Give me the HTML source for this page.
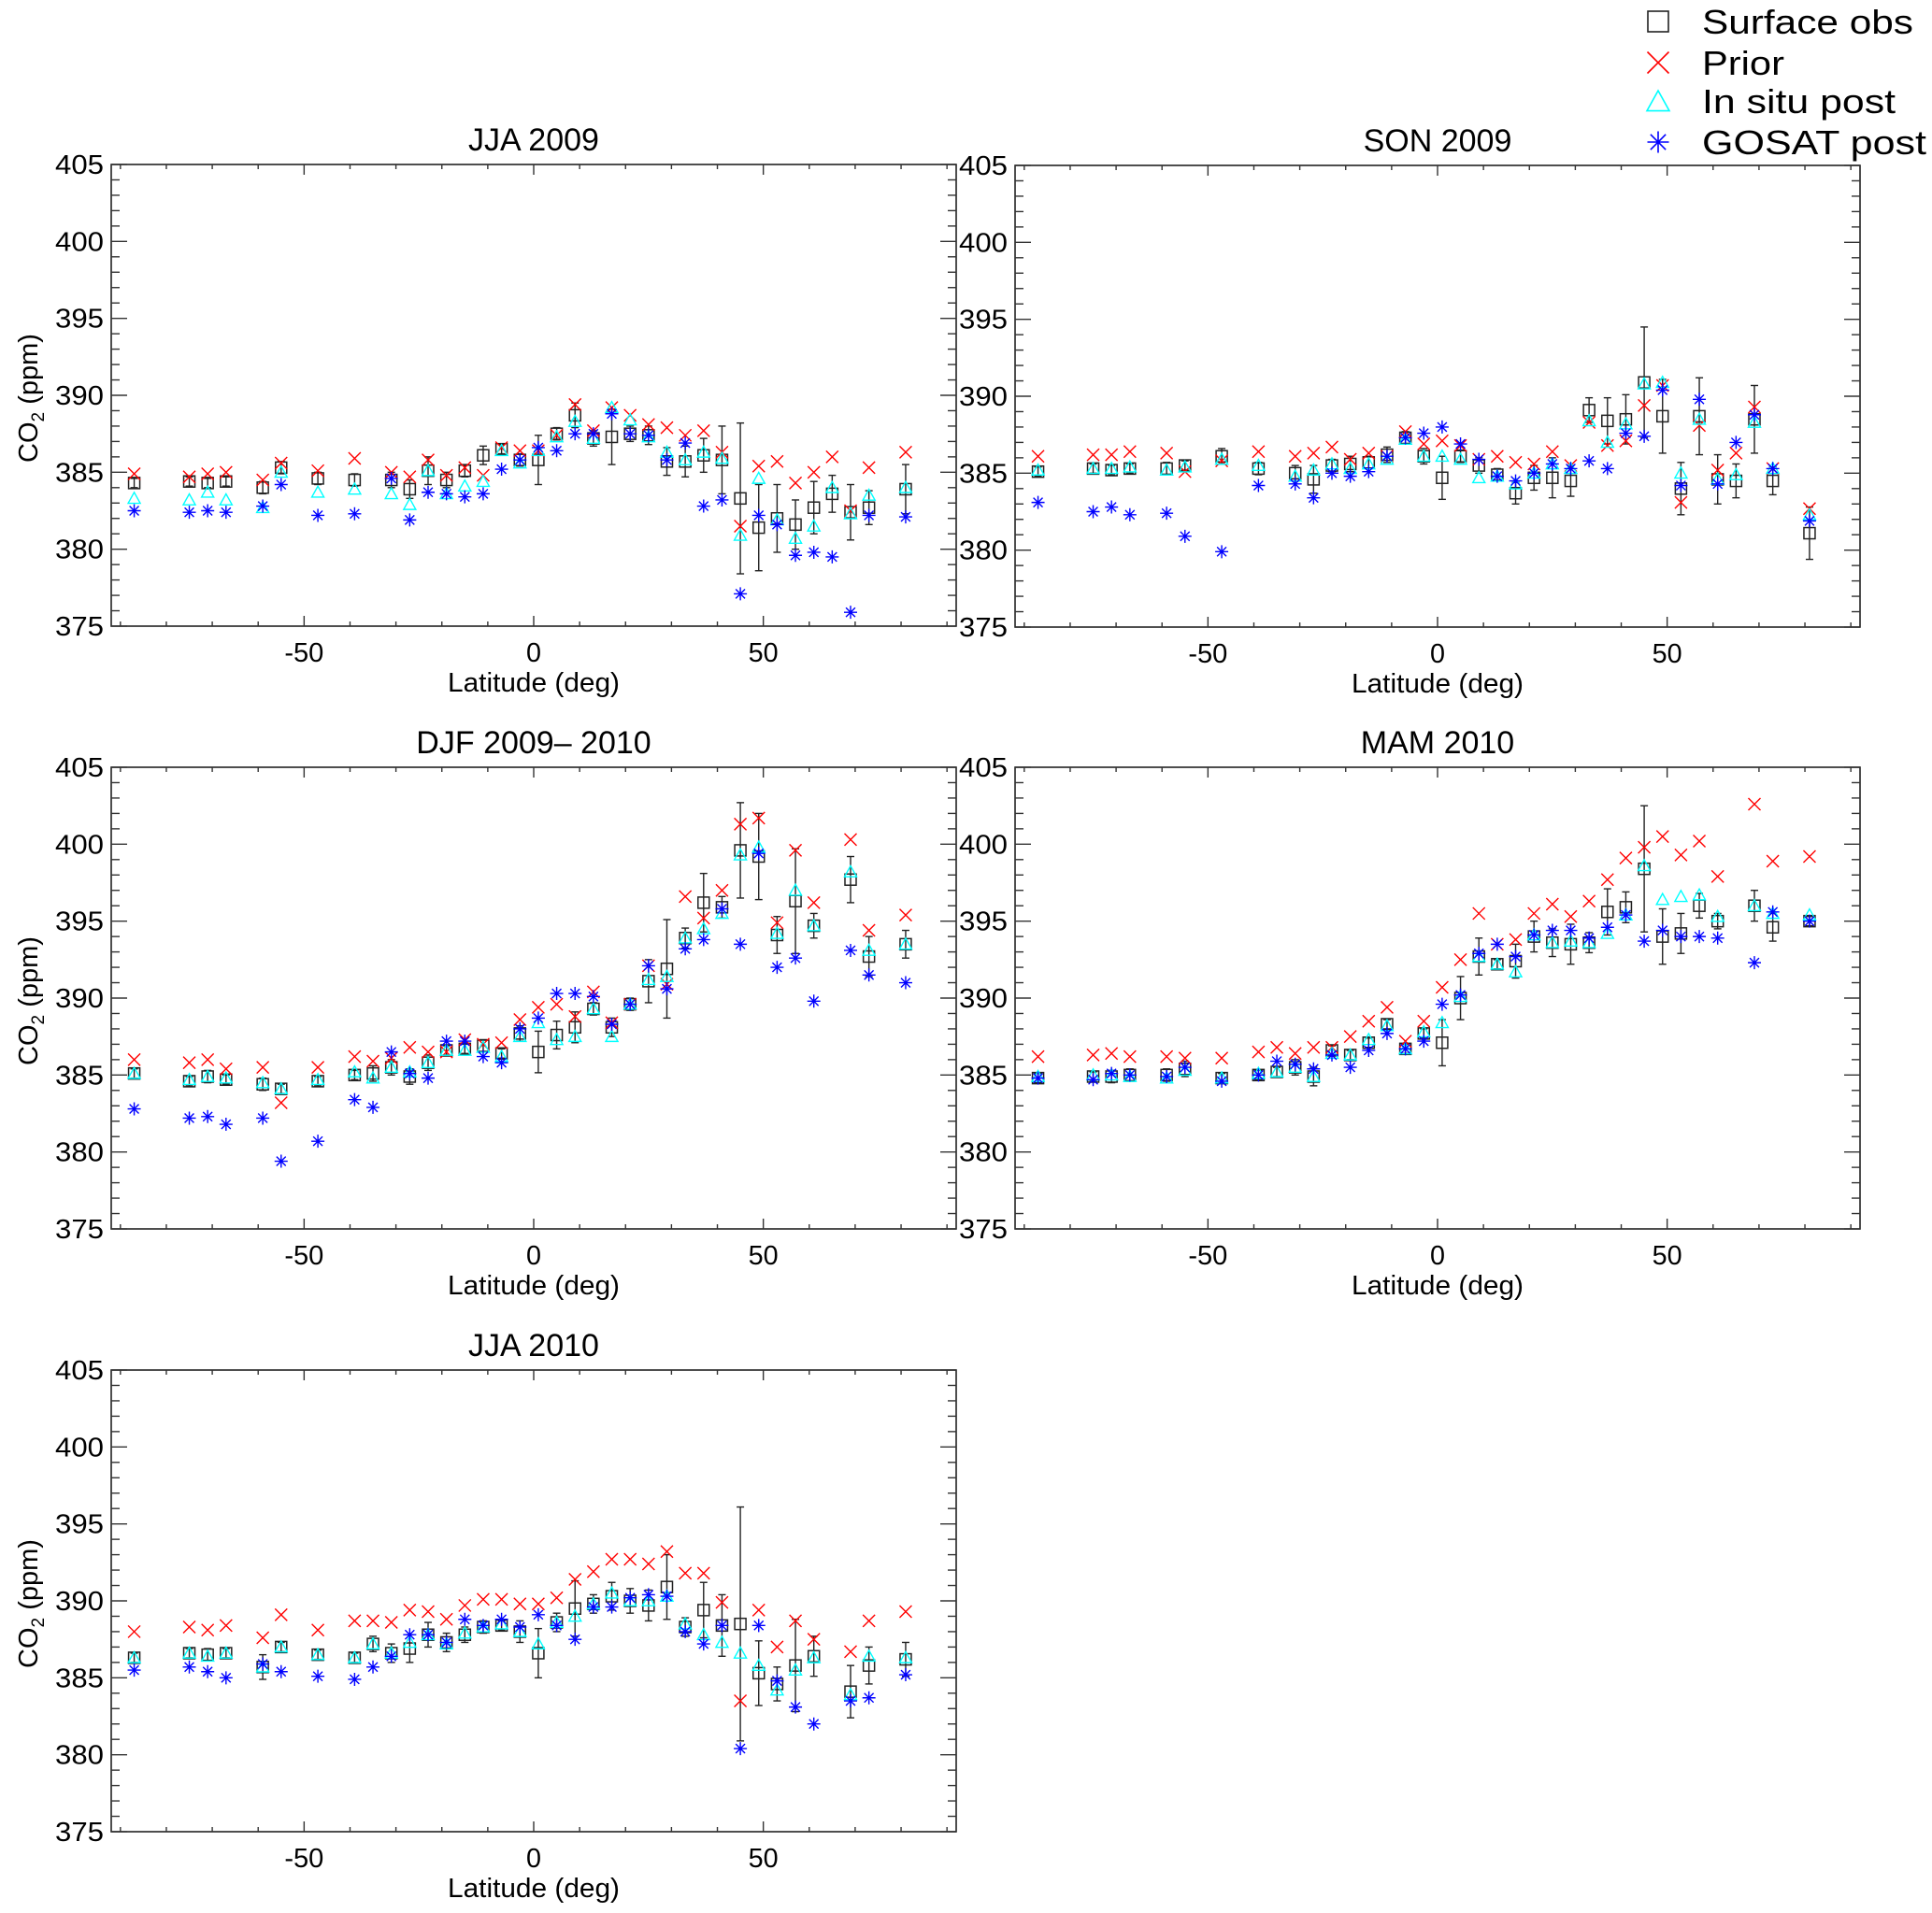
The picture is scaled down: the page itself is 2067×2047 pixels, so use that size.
<!DOCTYPE html>
<html><head><meta charset="utf-8"><style>
html,body{margin:0;padding:0;background:#fff;}
svg{display:block;font-family:"Liberation Sans",Arial,sans-serif;}
</style></head><body>
<svg id="chart" width="2067" height="2047" viewBox="0 0 2067 2047" xmlns="http://www.w3.org/2000/svg">
<rect x="0" y="0" width="2067" height="2047" fill="#fff"/>
<g id="legend"></g>
</svg>
<script>
// ---------- data ----------
const latA = [-87,-75,-71,-67,-59,-55,-47,-39,-31,-27,-23,-19,-15,-11,-7,-3,1,5,9,13,17,21,25,29,33,37,41,45,49,53,57,61,65,69,73,81];
const latB = [-87,-75,-71,-67,-59,-55,-47,-39,-35,-31,-27,-23,-19,-15,-11,-7,-3,1,5,9,13,17,21,25,29,33,37,41,45,49,53,57,61,69,73,81];
const panelTitles = ["JJA 2009","SON 2009","DJF 2009\u2013 2010","MAM 2010","JJA 2010"];
const yTicks = [375,380,385,390,395,400,405];
const xTicks = [-50,0,50];

const surf1 = [384.3,384.4,384.3,384.4,384.0,385.3,384.6,384.5,384.5,383.9,385.1,384.5,385.1,386.1,386.5,385.8,385.8,387.5,388.7,387.2,387.3,387.5,387.4,385.7,385.7,386.1,385.8,383.3,381.4,382.0,381.6,382.7,383.6,382.4,382.7,383.9];
const err1 = [0.3,0.3,0.3,0.3,0.4,0.4,0.4,0.4,0.5,0.6,0.9,0.5,0.4,0.6,0.3,0.4,1.6,0.4,0.8,0.5,1.8,0.5,0.6,0.9,1.0,1.1,2.2,4.9,2.8,2.2,1.6,1.7,1.2,1.8,1.1,1.6];
const prior1 = [384.9,384.7,384.9,385.0,384.5,385.6,385.1,385.9,385.0,384.7,385.8,384.8,385.3,384.8,386.6,386.4,386.4,387.4,389.4,387.7,389.2,388.7,388.1,387.9,387.4,387.7,386.3,381.5,385.4,385.7,384.3,385.0,386.0,382.5,385.3,386.3];
const insitu1 = [383.3,383.2,383.7,383.2,382.7,385.0,383.7,383.9,383.6,382.9,385.1,383.6,384.1,384.4,386.4,385.6,386.4,387.3,388.3,387.2,389.2,388.4,387.3,386.3,385.8,386.3,385.9,380.9,384.6,381.9,380.7,381.5,384.0,382.3,383.5,384.0];
const gosat1 = [382.5,382.4,382.5,382.4,382.8,384.2,382.2,382.3,384.6,381.9,383.7,383.6,383.4,383.6,385.2,385.8,386.6,386.4,387.5,387.5,388.8,387.5,387.4,385.8,386.9,382.8,383.2,377.1,382.2,381.6,379.6,379.8,379.5,375.9,382.2,382.1];

const surf2 = [385.1,385.3,385.2,385.3,385.3,385.5,386.1,385.3,385.0,384.6,385.5,385.6,385.7,386.2,387.3,386.1,384.7,386.1,385.5,384.9,383.7,384.7,384.7,384.5,389.1,388.4,388.5,390.9,388.7,384.0,388.7,384.6,384.5,388.5,384.5,381.1];
const err2 = [0.3,0.3,0.3,0.3,0.4,0.3,0.5,0.4,0.5,0.9,0.4,0.5,0.4,0.5,0.4,0.5,1.4,0.4,0.5,0.4,0.7,0.8,1.3,1.0,0.8,1.5,1.6,3.6,2.4,1.7,2.5,1.6,1.1,2.2,0.9,1.7];
const prior2 = [386.1,386.2,386.2,386.4,386.3,385.1,385.8,386.4,386.1,386.3,386.7,385.9,386.3,386.1,387.7,386.9,387.1,386.8,385.9,386.1,385.7,385.6,386.4,385.5,388.3,386.8,387.1,389.4,390.7,383.1,388.1,385.2,386.3,389.3,385.3,382.7];
const insitu2 = [385.2,385.3,385.3,385.4,385.2,385.4,385.9,385.5,384.8,385.2,385.6,385.3,385.6,385.9,387.2,386.1,386.1,385.9,384.7,384.8,384.3,385.0,385.6,385.3,388.4,387.0,388.2,390.8,390.9,385.0,388.5,384.6,384.9,388.3,385.3,382.3];
const gosat2 = [383.1,382.5,382.8,382.3,382.4,380.9,379.9,384.2,384.3,383.4,385.0,384.8,385.1,386.1,387.3,387.6,388.0,386.9,385.9,384.8,384.5,385.0,385.6,385.3,385.8,385.3,387.6,387.4,390.4,384.2,389.8,384.3,387.0,388.8,385.3,381.9];

const surf3 = [385.1,384.6,384.9,384.7,384.4,384.1,384.6,385.0,385.1,385.5,384.9,385.8,386.6,386.7,386.9,386.4,387.7,386.5,387.6,388.1,389.3,388.1,389.6,391.1,391.9,393.9,396.2,395.9,399.6,399.2,394.1,396.3,394.7,397.7,392.7,393.5];
const err3 = [0.3,0.3,0.4,0.3,0.4,0.3,0.3,0.3,0.5,0.5,0.5,0.5,0.3,0.3,0.4,0.3,0.5,1.35,0.9,1.0,0.4,0.6,0.4,1.4,3.2,0.65,1.9,0.7,3.1,2.8,1.2,3.4,0.8,1.5,1.3,0.9];
const prior3 = [386.0,385.8,386.0,385.4,385.5,383.2,385.5,386.2,385.9,386.1,386.8,386.5,386.5,387.3,387.0,387.1,388.6,389.4,389.6,388.8,390.4,388.4,389.6,392.1,390.9,396.6,395.2,397.0,401.3,401.7,394.9,399.6,396.2,400.3,394.4,395.4];
const insitu3 = [385.1,384.7,384.9,384.8,384.5,384.1,384.7,385.2,384.8,385.5,385.2,385.8,386.6,386.6,386.8,386.2,387.5,388.4,387.3,387.5,389.3,387.5,389.6,391.2,391.4,393.9,394.5,395.5,399.3,399.8,394.2,397.0,394.7,398.2,393.1,393.5];
const gosat3 = [382.8,382.2,382.3,381.8,382.2,379.4,380.7,383.4,382.9,386.5,385.1,384.8,387.2,387.2,386.2,385.8,388.0,388.7,390.3,390.3,390.1,388.3,389.6,392.1,390.6,393.2,393.8,395.8,393.5,399.4,392.0,392.6,389.8,393.1,391.5,391.0];

const surf4 = [384.8,384.9,384.9,385.0,385.0,385.4,384.8,385.0,385.2,385.5,384.9,386.6,386.3,387.1,388.3,386.7,387.7,387.1,390.0,392.7,392.2,392.4,394.0,393.6,393.5,393.6,395.6,395.9,398.4,394.0,394.2,396.0,395.0,396.0,394.6,395.0];
const err4 = [0.3,0.3,0.4,0.4,0.4,0.5,0.3,0.3,0.3,0.5,0.6,0.3,0.3,0.3,0.3,0.3,0.3,1.5,1.4,1.2,0.3,1.1,1.0,0.9,1.3,0.65,1.5,1.0,4.1,1.8,1.3,0.8,0.5,1.0,0.9,0.3];
const prior4 = [386.2,386.3,386.4,386.2,386.2,386.1,386.1,386.5,386.8,386.4,386.8,386.8,387.5,388.5,389.4,387.2,388.5,390.7,392.5,395.5,393.5,393.8,395.5,396.1,395.3,396.3,397.7,399.1,399.8,400.5,399.3,400.2,397.9,402.6,398.9,399.2];
const insitu4 = [384.9,385.0,385.0,384.9,384.8,385.3,384.8,385.1,385.2,385.5,384.9,386.4,386.3,387.3,388.2,386.7,387.8,388.4,390.1,392.7,392.2,391.7,394.1,393.6,393.7,393.6,394.2,395.4,398.6,396.4,396.6,396.7,395.3,396.0,395.5,395.4];
const gosat4 = [384.8,384.7,385.1,385.0,384.9,385.5,384.6,385.0,385.9,385.7,385.4,386.3,385.5,386.6,387.7,386.7,387.2,389.6,390.2,392.9,393.5,392.7,394.1,394.4,394.4,393.9,394.6,395.4,393.7,394.4,394.0,394.0,393.9,392.3,395.6,395.0];

const surf5 = [386.3,386.6,386.5,386.6,385.7,387.0,386.5,386.3,387.2,386.6,386.9,387.8,387.3,387.8,388.3,388.4,388.0,386.6,388.6,389.5,389.8,390.3,390.0,389.7,390.9,388.3,389.4,388.4,388.5,385.3,384.6,385.8,386.4,384.1,385.8,386.2];
const err5 = [0.3,0.3,0.4,0.3,0.8,0.3,0.3,0.3,0.5,0.6,0.9,0.8,0.6,0.5,0.4,0.3,0.7,1.6,0.6,1.8,0.6,0.9,0.8,1.0,2.1,0.6,1.8,2.0,7.6,2.1,1.1,3.0,1.3,1.7,1.2,1.1];
const prior5 = [388.0,388.3,388.1,388.4,387.6,389.1,388.1,388.7,388.7,388.6,389.4,389.3,388.8,389.7,390.1,390.1,389.8,389.8,390.2,391.4,391.9,392.7,392.7,392.4,393.2,391.8,391.8,389.9,383.5,389.4,387.0,388.7,387.5,386.7,388.7,389.3];
const insitu5 = [386.3,386.6,386.4,386.6,385.7,387.0,386.5,386.3,387.2,386.6,387.3,387.8,387.2,387.9,388.3,388.5,388.0,387.2,388.6,389.0,389.8,390.5,390.0,390.0,390.3,388.5,387.8,387.3,386.6,385.8,384.2,385.5,386.3,383.9,386.4,386.3];
const gosat5 = [385.5,385.7,385.4,385.0,385.9,385.4,385.1,384.9,385.7,386.4,387.8,387.8,387.3,388.8,388.4,388.8,388.3,389.1,388.4,387.5,389.6,389.6,390.2,390.4,390.3,388.0,387.2,388.4,380.4,388.4,384.8,383.1,382.0,383.5,383.7,385.2];

// ---------- layout ----------
const NS = "http://www.w3.org/2000/svg";
const svg = document.getElementById("chart");
const W = 904, H = 494, XMIN = -92, XMAX = 92, YMIN = 375, YMAX = 405;
const panels = [
  {x:119, y:176, lat:latA, s:surf1, e:err1, p:prior1, i:insitu1, g:gosat1},
  {x:1086, y:177, lat:latA, s:surf2, e:err2, p:prior2, i:insitu2, g:gosat2},
  {x:119, y:821, lat:latB, s:surf3, e:err3, p:prior3, i:insitu3, g:gosat3},
  {x:1086, y:821, lat:latB, s:surf4, e:err4, p:prior4, i:insitu4, g:gosat4},
  {x:119, y:1466, lat:latB, s:surf5, e:err5, p:prior5, i:insitu5, g:gosat5}
];
function mk(tag, attrs, parent){
  const el = document.createElementNS(NS, tag);
  for (const k in attrs) el.setAttribute(k, attrs[k]);
  (parent||svg).appendChild(el);
  return el;
}
function line(g,x1,y1,x2,y2,col,w){ return mk("line",{x1:x1,y1:y1,x2:x2,y2:y2,stroke:col,"stroke-width":w},g); }
function symSquare(g,cx,cy,r,w){ return mk("rect",{x:cx-r,y:cy-r,width:2*r,height:2*r,fill:"none",stroke:"#222","stroke-width":w},g); }
function symX(g,cx,cy,r,w){ return mk("path",{d:`M${cx-r},${cy-r}L${cx+r},${cy+r}M${cx-r},${cy+r}L${cx+r},${cy-r}`,stroke:"#ff0000","stroke-width":w,fill:"none"},g); }
function symTri(g,cx,cy,r,w){ return mk("path",{d:`M${cx},${cy-r}L${cx+r},${cy+r*0.8}L${cx-r},${cy+r*0.8}Z`,stroke:"#00ffff","stroke-width":w,fill:"none"},g); }
function symAst(g,cx,cy,r,w){ const d=r*0.707; return mk("path",{d:`M${cx},${cy-r}L${cx},${cy+r}M${cx-r},${cy}L${cx+r},${cy}M${cx-d},${cy-d}L${cx+d},${cy+d}M${cx-d},${cy+d}L${cx+d},${cy-d}`,stroke:"#0000ff","stroke-width":w,fill:"none"},g); }

panels.forEach((P, pi) => {
  const g = mk("g", {});
  
  
  const sx = v => P.x + (v - XMIN) / (XMAX - XMIN) * W;
  const sy = v => P.y + H - (v - YMIN) / (YMAX - YMIN) * H;
  const fr = mk("rect",{x:P.x,y:P.y,width:W,height:H,fill:"none",stroke:"#222","stroke-width":1.6},g);
  
  
  for (let v = YMIN; v <= YMAX; v++) {
    const maj = v % 5 === 0; const L = maj ? 17 : 9; const y = sy(v);
    line(g, P.x, y, P.x + L, y, "#333", 1.4);
    line(g, P.x + W, y, P.x + W - L, y, "#333", 1.4);
  }
  for (let v = -90; v <= 90; v += 10) {
    const maj = v % 50 === 0; const L = maj ? 11 : 5; const x = sx(v);
    line(g, x, P.y + H, x, P.y + H - L, "#333", 1.4);
    line(g, x, P.y, x, P.y + L, "#333", 1.4);
  }
  yTicks.forEach(v => {
    const t = mk("text",{x:P.x - 8, y:sy(v) + 10, "text-anchor":"end","font-size":29,fill:"#000",textLength:52,lengthAdjust:"spacingAndGlyphs"},g);
    t.textContent = v;
    
    
  });
  xTicks.forEach(v => {
    const s = String(v);
    const wdt = s.length === 3 ? 42 : (s.length === 2 ? 32 : 16);
    const t = mk("text",{x:sx(v), y:P.y + H + 38, "text-anchor":"middle","font-size":29,fill:"#000",textLength:wdt,lengthAdjust:"spacingAndGlyphs"},g);
    t.textContent = s;
    
    
  });
  const xt = mk("text",{x:P.x + W/2, y:P.y + H + 70, "text-anchor":"middle","font-size":29,fill:"#000",textLength:184,lengthAdjust:"spacingAndGlyphs"},g);
  xt.textContent = "Latitude (deg)";
  
  
  const tt = mk("text",{x:P.x + W/2, y:P.y - 15, "text-anchor":"middle","font-size":34,fill:"#000"},g);
  tt.textContent = panelTitles[pi];
  
  
  if (P.x < 500) {
    const cy = P.y + H/2 + 3;
    const yt = mk("text",{x:0,y:0,transform:`translate(40,${cy}) rotate(-90)`,"text-anchor":"middle","font-size":29,fill:"#000"},g);
    yt.innerHTML = 'CO<tspan font-size="19" dy="7">2</tspan><tspan dy="-7"> (ppm)</tspan>';
    
    
  }
  P.lat.forEach((la, k) => {
    const x = sx(la);
    const eg = mk("g", {}, g);
    
    
    const y1 = sy(P.s[k] + P.e[k]), y2 = sy(P.s[k] - P.e[k]);
    line(eg, x, y1, x, y2, "#222", 1.4);
    line(eg, x - 4, y1, x + 4, y1, "#222", 1.4);
    line(eg, x - 4, y2, x + 4, y2, "#222", 1.4);
    const a = symSquare(g, x, sy(P.s[k]), 6, 1.5);
    
    
    const b = symX(g, x, sy(P.p[k]), 6.5, 1.4);
    
    
    const c = symTri(g, x, sy(P.i[k]), 6.5, 1.4);
    
    
    const d = symAst(g, x, sy(P.g[k]), 7, 1.4);
    
    
  });
});

// legend
const lg = document.getElementById("legend");
const legendLabels = ["Surface obs","Prior","In situ post","GOSAT post"];
const legendW = [226, 88, 207, 240];
const legendSym = [symSquare, symX, symTri, symAst];
const legendY = [23, 67, 108, 152];
legendLabels.forEach((lab, k) => {
  const eg = mk("g", {}, lg);
  
  
  if (k === 0) symSquare(eg, 1774, legendY[k], 11, 1.6);
  else if (k === 2) symTri(eg, 1774, legendY[k] + 1, 12, 1.6);
  else legendSym[k](eg, 1774, legendY[k], 11.5, 1.6);
  const t = mk("text",{x:1821, y:legendY[k] + 13, "font-size":36, fill:"#000", textLength:legendW[k], lengthAdjust:"spacingAndGlyphs"}, eg);
  t.textContent = lab;
  
  
});
</script>
</body></html>
